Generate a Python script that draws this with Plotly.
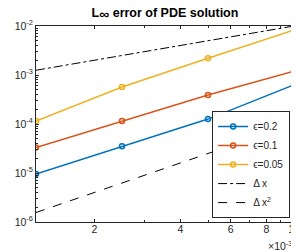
import plotly.graph_objects as go

dx = [1.25e-3, 2.5e-3, 5e-3, 1e-2]
err_eps02 = [9.5e-6, 3.5e-5, 1.26e-4, 6.3e-4]
err_eps01 = [3.3e-5, 1.15e-4, 3.9e-4, 1.2e-3]
err_eps005 = [1.15e-4, 5.7e-4, 2.2e-3, 8.3e-3]
ref_x = [1.25e-3, 1e-2]
ref_dx = [1.25e-3, 1e-2]
ref_dx2 = [1.5625e-6, 1e-4]
series_names = ["ϵ=0.2", "ϵ=0.1", "ϵ=0.05"]
colors = ["#0072BD", "#D95319", "#EDB120"]
xtick_vals = [2e-3, 4e-3, 6e-3, 8e-3, 1e-2]
xtick_text = ["2", "4", "6", "8", "10"]
xminor_vals = [3e-3, 5e-3, 7e-3, 9e-3]
ytick_vals = [1e-6, 1e-5, 1e-4, 1e-3, 1e-2]
ytick_text = ["10<sup>-6</sup>", "10<sup>-5</sup>", "10<sup>-4</sup>", "10<sup>-3</sup>", "10<sup>-2</sup>"]
yminor_vals = [m * 10.0 ** e for e in [-6, -5, -4, -3] for m in range(2, 10)]

fig = go.Figure()
for name, ys, c in zip(series_names, [err_eps02, err_eps01, err_eps005], colors):
    fig.add_trace(go.Scatter(x=dx, y=ys, name=name, mode="lines+markers",
                             line=dict(color=c, width=1.5),
                             marker=dict(symbol="circle-open", size=5, color=c, line=dict(width=1.5, color=c))))
fig.add_trace(go.Scatter(x=ref_x, y=ref_dx, name="Δ x", mode="lines",
                         line=dict(color="black", width=1, dash="dashdot")))
fig.add_trace(go.Scatter(x=ref_x, y=ref_dx2, name="Δ x<sup>2</sup>", mode="lines",
                         line=dict(color="black", width=1, dash="dash")))

axis_common = dict(type="log", showline=True, linecolor="#262626", linewidth=1, mirror="ticks",
                   ticks="inside", ticklen=3, tickcolor="#262626", showgrid=False, zeroline=False,
                   tickfont=dict(size=10.5, color="#262626"))

fig.update_xaxes(range=[-2.9031, -2], tickvals=xtick_vals, ticktext=xtick_text,
                 ticklabelstandoff=-3,
                 minor=dict(ticks="inside", ticklen=2, tickcolor="#262626", showgrid=False,
                            tickvals=xminor_vals),
                 **axis_common)
fig.update_yaxes(range=[-6, -2], tickvals=ytick_vals, ticktext=ytick_text,
                 minor=dict(ticks="inside", ticklen=2, tickcolor="#262626", showgrid=False,
                            tickvals=yminor_vals),
                 **axis_common)

fig.update_layout(
    width=299, height=251,
    margin=dict(l=27, r=7, t=18, b=37),
    paper_bgcolor="white", plot_bgcolor="white",
    font=dict(family="Liberation Sans, Arial, sans-serif", size=10, color="#262626"),
    title=dict(text="<b>L<sub><span style=\"font-size:14px\">∞</span></sub> error of PDE solution</b>",
               x=0.5, xanchor="center", xref="paper",
               y=1.0, yanchor="top", font=dict(size=12.5, color="black")),
    showlegend=True,
    legend=dict(x=0.985, y=0.02, xanchor="right", yanchor="bottom",
                bgcolor="white", bordercolor="#262626", borderwidth=1,
                font=dict(size=10), tracegroupgap=0, itemwidth=30),
    annotations=[dict(text="×10<sup>-3</sup>", xref="paper", yref="paper", x=0.998, y=-0.16,
                      xanchor="right", yanchor="bottom", showarrow=False, borderpad=0,
                      font=dict(size=10.5, color="#262626"))],
)

fig.write_html("out.html")
